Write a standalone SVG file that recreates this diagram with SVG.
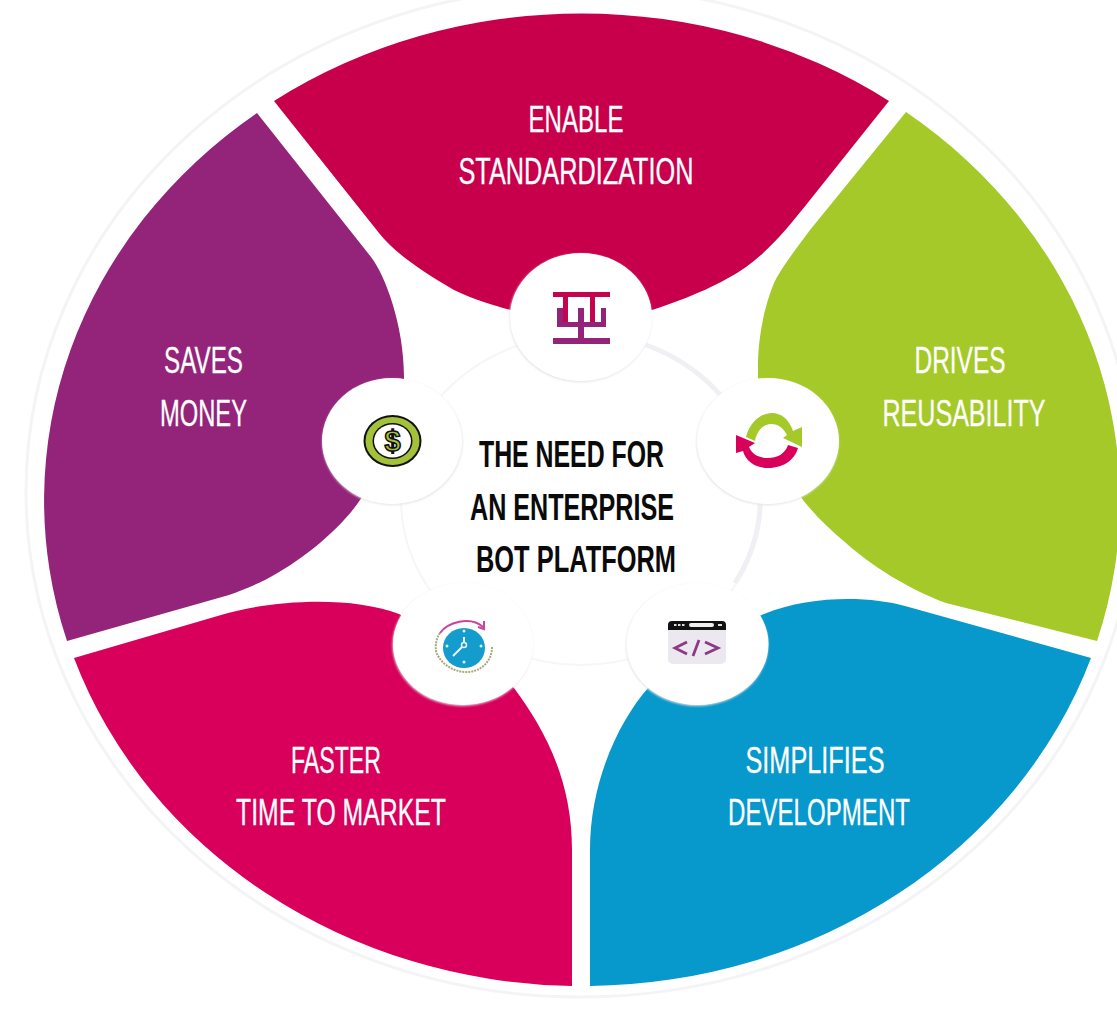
<svg xmlns="http://www.w3.org/2000/svg" width="1117" height="1009" viewBox="0 0 1117 1009">
<defs>
<style>
.t{font-family:"Liberation Sans Narrow","Liberation Sans",Arial,sans-serif;font-size:37px;fill:#fff;stroke:#fff;stroke-width:.3;text-anchor:middle}
.c{fill:#0a0a0a;stroke:none;font-weight:700}
.n{fill:#fff}
.s{fill:#e6e2e3;filter:url(#sh)}
</style>
<filter id="sh" x="-20%" y="-20%" width="140%" height="140%"><feGaussianBlur stdDeviation="1"/></filter>
</defs>
<rect width="1117" height="1009" fill="#fff"/>
<ellipse cx="581" cy="492" rx="555" ry="505" fill="none" stroke="#f4f4f6" stroke-width="3"/>
<ellipse cx="581" cy="500" rx="180" ry="165" fill="none" stroke="#f6f5f8" stroke-width="2"/>
<path d="M646 345A180 165 0 0 1 735 583" fill="none" stroke="#f0f0f4" stroke-width="5"/>
<g id="enable">
<path d="M274 101A537 486 0 0 1 889 101L810 200C790 225 770 250 746 267C725 282 690 298 652 310L581 330L511 310C495 306 475 300 454 290C420 270 395 253 379 233Z" fill="#c8004b"/>
<text class="t" x="576" y="132" textLength="95" lengthAdjust="spacingAndGlyphs">ENABLE</text>
<text class="t" x="576" y="184" textLength="235" lengthAdjust="spacingAndGlyphs">STANDARDIZATION</text>
</g>
<g id="saves">
<path d="M257 113L371 257C385 275 404 325 404 377V440L360 500C340 530 300 562 265 580C255 585 240 591 229 595L67 641A537 486 0 0 1 257 113Z" fill="#93247a"/>
<text class="t" x="203.500" y="373" textLength="79" lengthAdjust="spacingAndGlyphs">SAVES</text>
<text class="t" x="203.500" y="426" textLength="87" lengthAdjust="spacingAndGlyphs">MONEY</text>
</g>
<g id="drives">
<path d="M906 112A537 486 0 0 1 1097 641L946 603C910 590 870 565 846 543C830 530 815 515 803 500L758 440V367C758 335 765 305 774 283C780 270 795 250 810 230Z" fill="#a4c928"/>
<text class="t" x="960" y="373" textLength="91" lengthAdjust="spacingAndGlyphs">DRIVES</text>
<text class="t" x="964" y="426" textLength="163" lengthAdjust="spacingAndGlyphs">REUSABILITY</text>
</g>
<g id="simplifies">
<path d="M1091 658L905 606C870 596 810 595 764 614L700 640L648 688C620 720 590 780 590 850L590 986A537 486 0 0 0 1091 658Z" fill="#0798cc"/>
<text class="t" x="815" y="773" textLength="139" lengthAdjust="spacingAndGlyphs">SIMPLIFIES</text>
<text class="t" x="819" y="825" textLength="182" lengthAdjust="spacingAndGlyphs">DEVELOPMENT</text>
</g>
<g id="faster">
<path d="M74 658L221 615C270 600 350 595 399 614L460 645L514 688C545 730 572 780 572 850L572 986A537 486 0 0 1 74 658Z" fill="#d9005b"/>
<text class="t" x="336" y="773" textLength="90" lengthAdjust="spacingAndGlyphs">FASTER</text>
<text class="t" x="341" y="825" textLength="210" lengthAdjust="spacingAndGlyphs">TIME TO MARKET</text>
</g>
<g id="node-top">
<ellipse class="s" cx="580.500" cy="318" rx="71" ry="64"/>
<ellipse class="n" cx="581" cy="317" rx="71" ry="64"/>
<path d="M553 292H610V297H595V322H590V297H568V322H563V297H553Z" fill="#c4044f"/>
<path d="M557 308H563V322H578V308H584V322H601V308H606V327H584V338H610V344H553V338H578V327H557Z" fill="#93247a"/>
</g>
<g id="node-left">
<ellipse class="s" cx="392.500" cy="442" rx="70" ry="63"/>
<ellipse class="n" cx="392" cy="441" rx="70" ry="63"/>
<ellipse cx="392.500" cy="441" rx="29" ry="26" fill="#111"/>
<ellipse cx="392.500" cy="441" rx="27" ry="24" fill="#a4c13a"/>
<ellipse cx="392.500" cy="441" rx="20" ry="18" fill="#111"/>
<ellipse cx="392.500" cy="441" rx="18.500" ry="16.500" fill="#fff"/>
<text x="392.500" y="451" font-family="Liberation Sans,sans-serif" font-size="29" font-weight="700" text-anchor="middle" fill="#a4c13a" stroke="#111" stroke-width="1.500">$</text>
</g>
<g id="node-right">
<ellipse class="s" cx="767.500" cy="442" rx="71" ry="63"/>
<ellipse class="n" cx="768" cy="441" rx="71" ry="63"/>
<path d="M746 437C750 421 762 413 772 413C781 413 789 419 793 431L802 427V447L783 438L787 435C783 427 777 424 771 424C764 424 757 430 755 441Z" fill="#a4c928"/>
<path d="M736 435L755 443L749 447C752 455 760 458 768 458C777 458 785 454 788 445L798 448C794 462 781 468 768 468C756 468 746 462 743 451L736 453Z" fill="#d9005b"/>
</g>
<g id="node-bl">
<ellipse class="s" cx="462.500" cy="645" rx="70" ry="61"/>
<ellipse class="n" cx="463" cy="644" rx="70" ry="61"/>
<path d="M440 633C435 640 435 650 437 654C443 666 455 672 467 672C480 672 492 662 492 647" fill="none" stroke="#a9a97a" stroke-width="2" stroke-dasharray="2 1"/>
<path d="M440 633C447 623 470 615 483 627" fill="none" stroke="#c7459a" stroke-width="2"/>
<path d="M478 627L484 629L484 621" fill="none" stroke="#c7459a" stroke-width="2"/>
<ellipse cx="464" cy="648" rx="21" ry="20" fill="#149ccc"/>
<path d="M464 637V645L453 656" fill="none" stroke="#e8f4fa" stroke-width="2"/>
<circle cx="464" cy="645" r="2.500" fill="#149ccc" stroke="#e8f4fa" stroke-width="1.500"/>
<g fill="#d8eef7"><circle cx="464" cy="631" r="1.500"/><circle cx="464" cy="662" r="1.500"/><circle cx="447" cy="646" r="1.500"/><circle cx="481" cy="646" r="1.500"/></g>
</g>
<g id="node-br">
<ellipse class="s" cx="697" cy="645" rx="71" ry="61"/>
<ellipse class="n" cx="697.500" cy="644" rx="71" ry="61"/>
<rect x="668" y="621" width="58" height="43" rx="5" fill="#ebe8ef"/>
<path d="M668 630V625Q668 621 672 621H722Q726 621 726 625V630Z" fill="#111"/>
<rect x="689" y="623" width="25" height="4" rx="2" fill="#eee"/>
<g fill="#ddd"><rect x="674" y="624" width="2.500" height="2"/><rect x="678" y="624" width="2.500" height="2"/><rect x="682" y="624" width="2.500" height="2"/><rect x="718" y="624" width="4" height="2"/></g>
<path d="M687 642L675 648L687 654M699 640L693 656M705 642L718 648L705 654" fill="none" stroke="#8d3a84" stroke-width="2.800"/>
</g>
<g id="center">
<text class="t c" x="571.500" y="467" textLength="185" lengthAdjust="spacingAndGlyphs">THE NEED FOR</text>
<text class="t c" x="572" y="520" textLength="204" lengthAdjust="spacingAndGlyphs">AN ENTERPRISE</text>
<text class="t c" x="576" y="572" textLength="200" lengthAdjust="spacingAndGlyphs">BOT PLATFORM</text>
</g>
</svg>
